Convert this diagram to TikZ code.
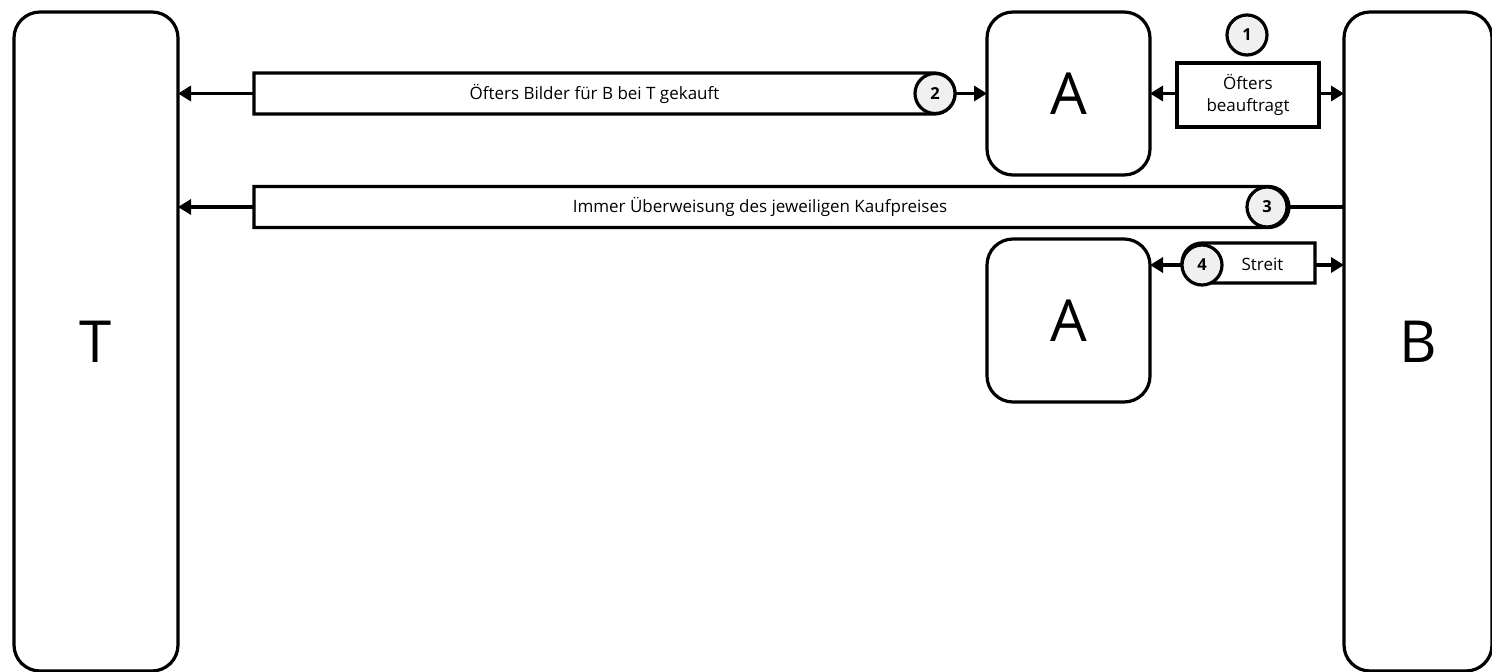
\documentclass[tikz,border=0pt]{standalone}
\usepackage{fontspec}
\setmainfont{Open Sans}
\usetikzlibrary{shapes.misc,arrows.meta}
\begin{document}
\begin{tikzpicture}[x=1pt,y=-1pt,
  every node/.style={inner sep=0pt,outer sep=0pt},
  party/.style={draw,line width=3.2pt,rounded corners=26pt,fill=white,font=\fontsize{58}{60}\selectfont},
  lbl/.style={draw,line width=3.2pt,fill=white},
  num/.style={draw,circle,line width=3.2pt,fill=gray!12,minimum size=40pt,font=\bfseries\fontsize{16.5}{18}\selectfont},
  txt/.style={font=\fontsize{17}{22}\selectfont},
  arr/.style={line width=3.2pt,-{Triangle[length=13pt,width=15pt]}},
  ln/.style={line width=3.2pt}]
\useasboundingbox (0,0) rectangle (1492,672);
% parties
\node[party,minimum width=164pt,minimum height=659pt] (T) at (96,341.5) {T};
\node[party,minimum width=148pt,minimum height=659pt] (B) at (1418,341.5) {B};
\node[party,minimum width=163pt,minimum height=163pt] (A1) at (1068.5,93.5) {A};
\node[party,minimum width=163pt,minimum height=163pt] (A2) at (1068.5,320.5) {A};
% box 1
\node[lbl,txt,minimum width=142pt,minimum height=64pt,align=center] (b1) at (1248,95) {Öfters\\beauftragt};
\node[num] (c1) at (1247,35) {1};
% box 2
\node[lbl,rounded rectangle,rounded rectangle west arc=none,minimum width=701pt,minimum height=41pt] (b2) at (604.5,93.5) {};
\node[txt] (t2) at (594.5,93.5) {Öfters Bilder für B bei T gekauft};
\node[num] (c2) at (935,93.5) {2};
% box 3
\node[lbl,rounded rectangle,rounded rectangle west arc=none,minimum width=1035pt,minimum height=41pt] (b3) at (771.5,207) {};
\node[txt] (t3) at (760,207) {Immer Überweisung des jeweiligen Kaufpreises};
\node[num] (c3) at (1267,207) {3};
% box 4
\node[lbl,rounded rectangle,rounded rectangle east arc=none,minimum width=133pt,minimum height=40pt] (b4) at (1248.5,263) {};
\node[txt] (t4) at (1262.5,264) {Streit};
\node[num] (c4) at (1202,265) {4};
% connectors
\draw[arr] (b2.west) -- (b2.west -| T.east);
\draw[arr] (c2.east) -- (c2.east -| A1.west);
\draw[arr] (b1.west |- c2.east) -- (c2.east -| A1.east);
\draw[arr] (b1.east |- c2.east) -- (c2.east -| B.west);
\draw[arr] (b3.west) -- (b3.west -| T.east);
\draw[ln] (c3.east) -- (c3.east -| B.west);
\draw[arr] (c4.west) -- (c4.west -| A2.east);
\draw[arr] (b4.east |- c4.west) -- (c4.west -| B.west);
\end{tikzpicture}
\end{document}
